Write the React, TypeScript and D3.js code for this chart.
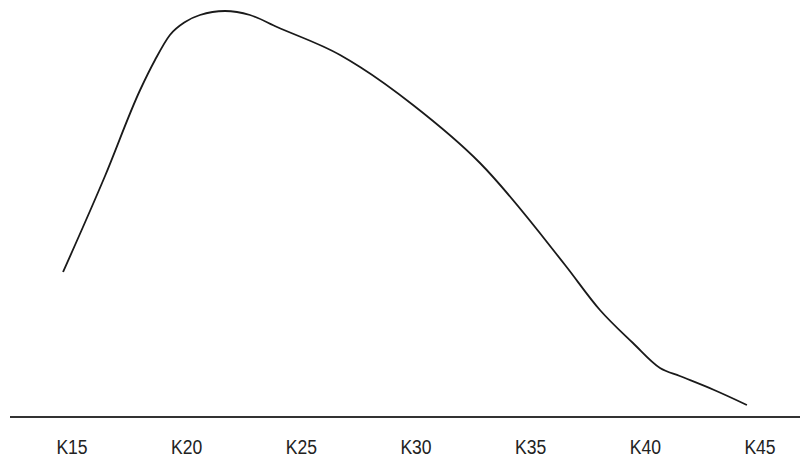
import React from "react";
import * as d3 from "d3";

const tickLabels = ["K15", "K20", "K25", "K30", "K35", "K40", "K45"];
const tickValues = [15, 20, 25, 30, 35, 40, 45];
const ages = [14.61, 16.44, 17.97, 18.62, 19.27, 19.93, 20.58, 21.67, 22.76, 23.94, 26.69, 27.56, 29.87, 32.79, 36.5, 38.02, 39.46, 40.64, 41.5, 43.0, 44.43];
const values = [145, 241, 327, 357, 382, 395, 402, 406, 402, 390, 362, 350, 312, 254, 152, 107, 74, 49, 41, 27, 12];

export default function App() {
  const W = 800, H = 469;
  const x = d3.scaleLinear().domain([15, 45]).range([72, 760]);
  const y = d3.scaleLinear().domain([0, 410]).range([417, 7]);
  const pts: [number, number][] = ages.map((a, i) => [x(a), y(values[i])]);
  const line = d3.line().curve(d3.curveMonotoneX)(pts) || "";
  return (
    <svg width={W} height={H} style={{ position: "absolute", left: 0, top: 0, background: "#fff" }}>
      <path d={line} fill="none" stroke="#1a1a1a" strokeWidth={1.8} strokeLinejoin="round" />
      <line x1={10} x2={800} y1={y(0)} y2={y(0)} stroke="#333" strokeWidth={2} />
      {tickValues.map((t, i) => (
        <text
          key={t}
          transform={`translate(${x(t)},454) scale(0.9,1)`}
          textAnchor="middle"
          fontFamily="Liberation Sans, Arial, sans-serif"
          fontSize={19.5}
          fill="#222"
        >
          {tickLabels[i]}
        </text>
      ))}
    </svg>
  );
}
